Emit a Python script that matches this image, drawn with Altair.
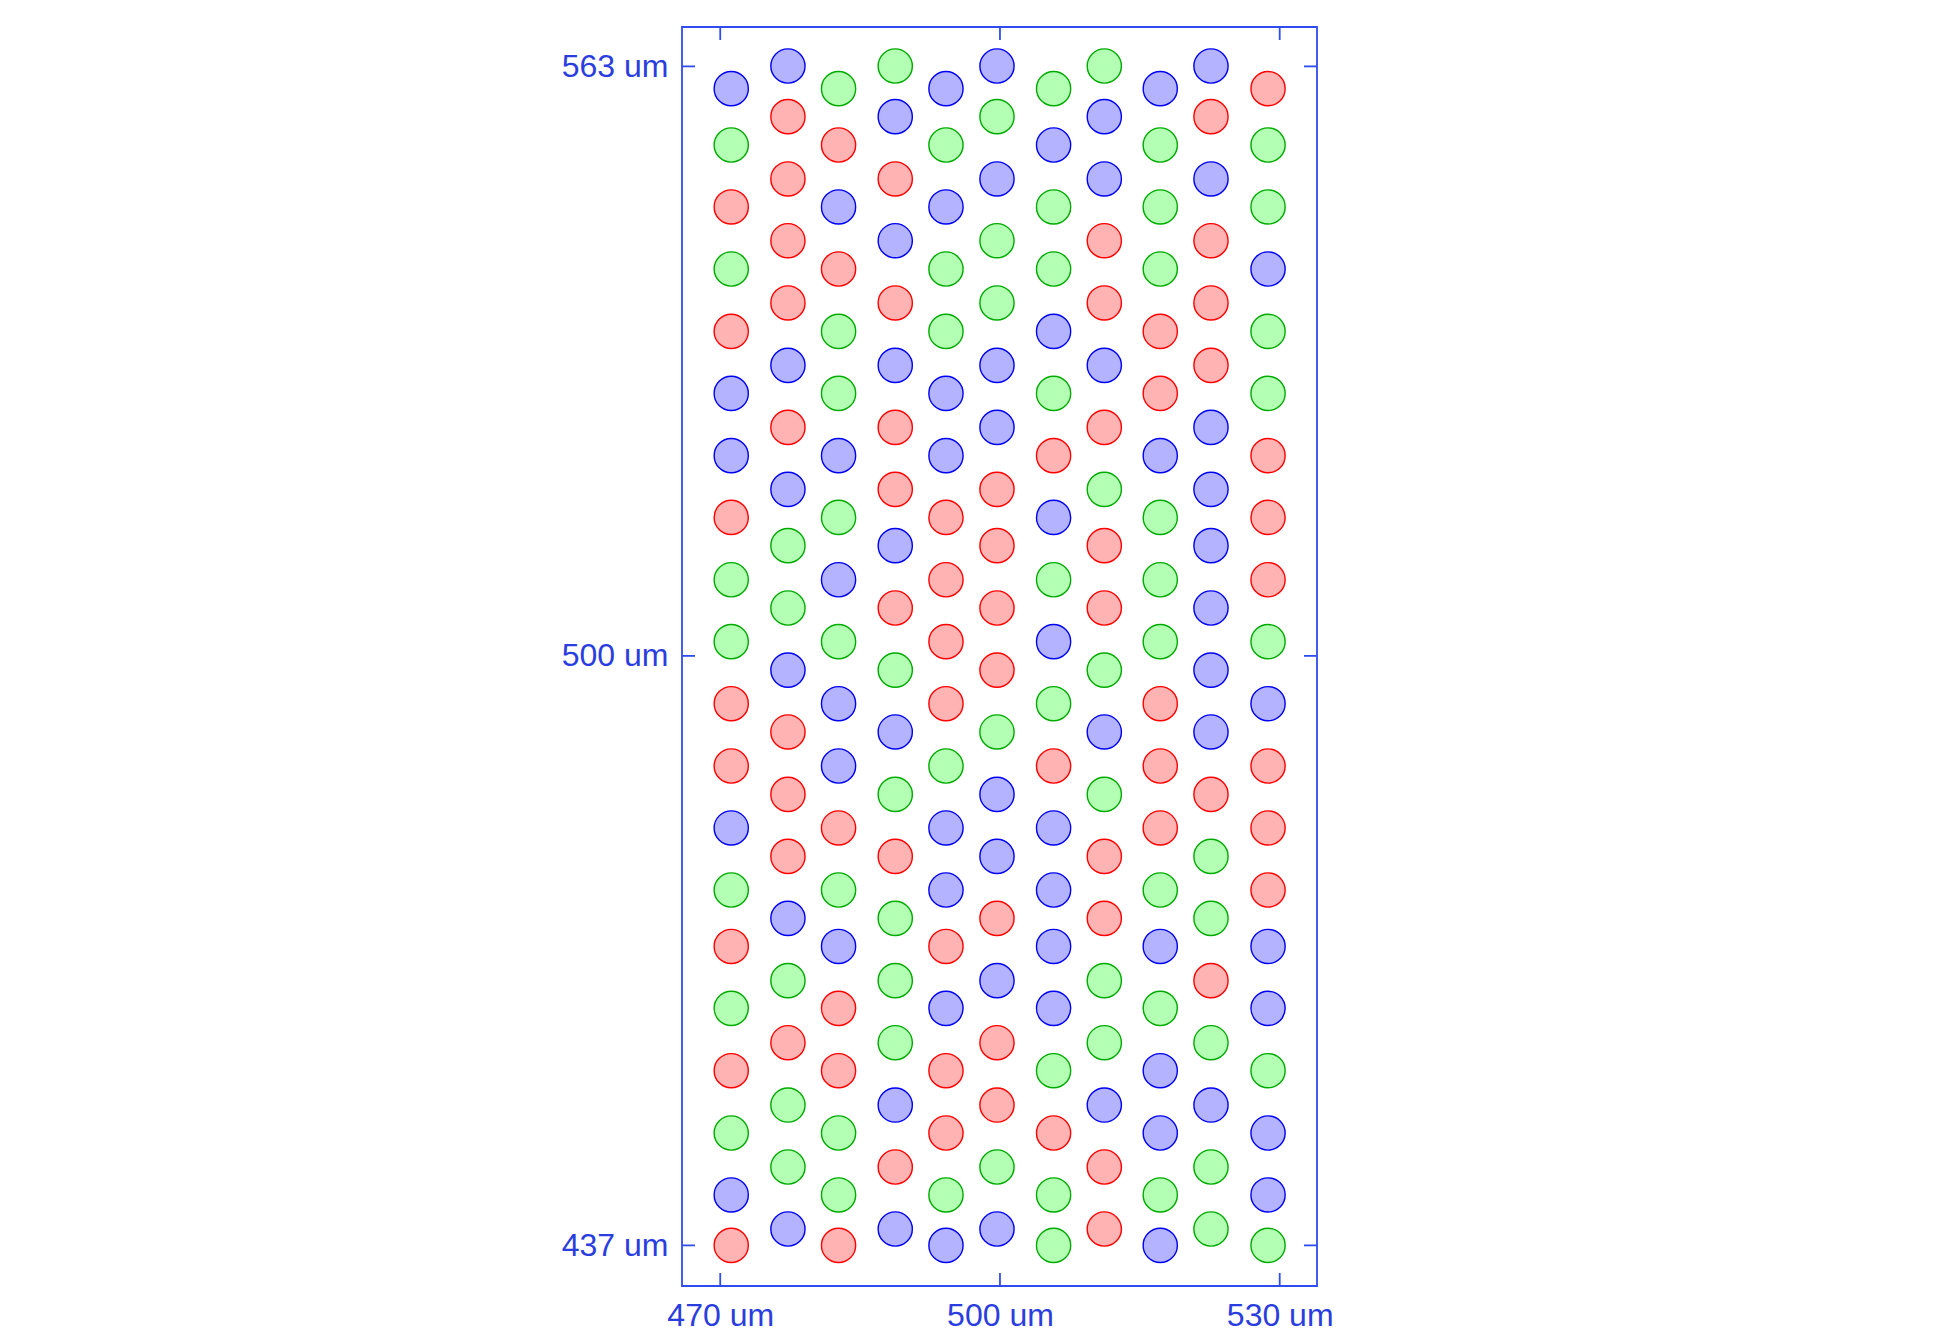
import altair as alt
import pandas as pd

# column x positions (um), left to right
col_x = [471.18, 477.26, 482.69, 488.77, 494.21, 499.68, 505.75, 511.19, 517.19, 522.63, 528.75]

# row y positions (um), top to bottom, for columns 1,3,5,... and 2,4,6,...
y_odd = [560.62, 554.60, 547.98, 541.35, 534.68, 528.05, 521.40, 514.80, 508.14, 501.52,
         494.89, 488.23, 481.61, 474.98, 468.95, 462.33, 455.67, 449.01, 442.39, 437.00]
y_even = [563.04, 557.63, 550.97, 544.37, 537.72, 531.05, 524.42, 517.80, 511.78, 505.12,
          498.48, 491.87, 485.20, 478.57, 471.95, 465.29, 458.66, 452.00, 445.38, 438.75]

# colour of each circle, per column, top to bottom
col_colors = [
    "BGRGRBBRGGRRBGRGRGBR",
    "BRRRRBRBGGBRRRBGRGGB",
    "GRBRGGBGBGBBRGBRRGGR",
    "GBRBRBRRBRGBGRGGGBRB",
    "BGBGGBBRRRRGBBRBRRGB",
    "BGBGGBBRRRRGBBRBRRGB",
    "GBGGBGRBGBGRBBBBGRGG",
    "GBBRRBRGRRGBGRRGGBRR",
    "BGGGRRBGGGRRRGBGBBGB",
    "BRBRRRBBBBBBRGGRGBGG",
    "RGGBGGRRRGBRRRBBGBBG",
]

x_ticks = [470, 500, 530]
y_ticks = [437, 500, 563]

rows = []
for i, (cx, cols) in enumerate(zip(col_x, col_colors)):
    ys = y_odd if i % 2 == 0 else y_even
    for y, c in zip(ys, cols):
        rows.append({"x": cx, "y": y, "c": c})
df = pd.DataFrame(rows)

W, H = 635, 1259
TL = 13
line_color = "#2f4cf0"
text_color = "#2a3ee0"
font = "Liberation Sans"

xscale = alt.Scale(domain=[465.9, 534.0], nice=False, zero=False)
yscale = alt.Scale(domain=[432.66, 567.21], nice=False, zero=False)

xaxis = alt.Axis(values=x_ticks, labelExpr="datum.value + ' um'", ticks=False, domain=False,
                 grid=False, labelFontSize=32, labelColor=text_color, labelFont=font,
                 labelPadding=14, title=None)
yaxis = alt.Axis(values=y_ticks, labelExpr="datum.value + ' um'", ticks=False, domain=False,
                 grid=False, labelFontSize=32, labelColor=text_color, labelFont=font,
                 labelPadding=14, title=None)

points = alt.Chart(df).mark_circle(size=1170, opacity=1, strokeWidth=1.4).encode(
    x=alt.X("x:Q", scale=xscale, axis=xaxis, title=None),
    y=alt.Y("y:Q", scale=yscale, axis=yaxis, title=None),
    fill=alt.Fill("c:N", scale=alt.Scale(domain=["R", "G", "B"],
                                         range=["#ffb3b3", "#b3ffb3", "#b3b3ff"]), legend=None),
    stroke=alt.Stroke("c:N", scale=alt.Scale(domain=["R", "G", "B"],
                                             range=["#ff0000", "#00aa00", "#0000f0"]), legend=None),
)

xt = pd.DataFrame({"x": x_ticks})
yt = pd.DataFrame({"y": y_ticks})

xb = alt.Chart(xt).mark_rule(color=line_color, strokeWidth=1.8).encode(
    x=alt.X("x:Q", scale=xscale, axis=xaxis, title=None), y=alt.value(H), y2=alt.value(H - TL))
xtop = alt.Chart(xt).mark_rule(color=line_color, strokeWidth=1.8).encode(
    x=alt.X("x:Q", scale=xscale, axis=xaxis, title=None), y=alt.value(0), y2=alt.value(TL))
yl = alt.Chart(yt).mark_rule(color=line_color, strokeWidth=1.8).encode(
    y=alt.Y("y:Q", scale=yscale, axis=yaxis, title=None), x=alt.value(0), x2=alt.value(TL))
yr = alt.Chart(yt).mark_rule(color=line_color, strokeWidth=1.8).encode(
    y=alt.Y("y:Q", scale=yscale, axis=yaxis, title=None), x=alt.value(W), x2=alt.value(W - TL))

chart = alt.layer(points, xb, xtop, yl, yr).properties(
    width=W, height=H,
    padding={"left": 682, "top": 27, "right": 20, "bottom": 54},
    autosize=alt.AutoSizeParams(type="none"),
).configure_view(stroke=line_color, strokeWidth=1.8)

chart.save("out.html", embed_options={"renderer": "svg", "actions": False})
